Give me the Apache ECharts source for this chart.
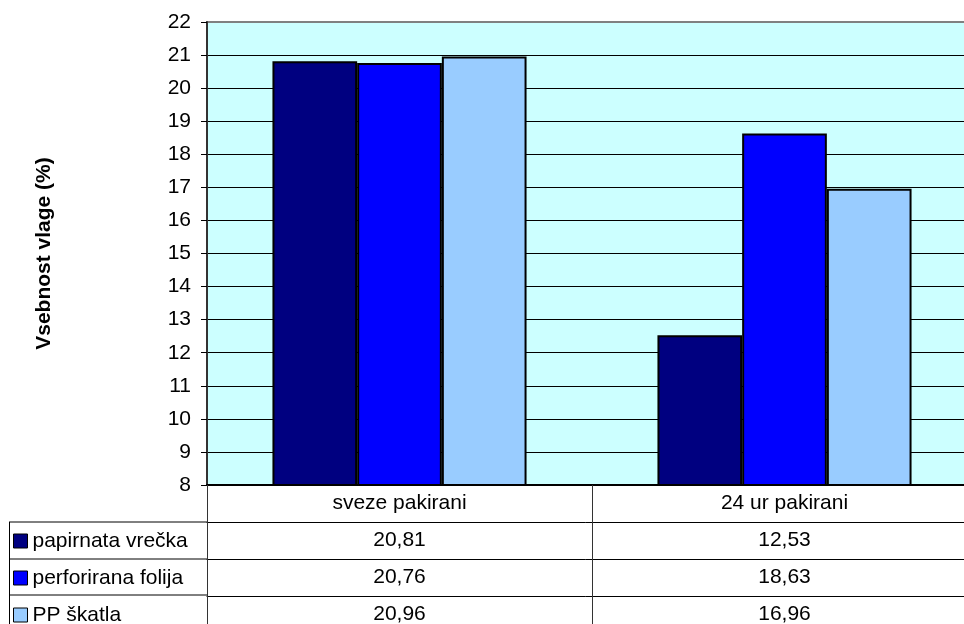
<!DOCTYPE html>
<html>
<head>
<meta charset="utf-8">
<script src="https://cdn.jsdelivr.net/npm/echarts@6/dist/echarts.min.js"></script>
<style>
  html, body { margin: 0; padding: 0; background: #fff; }
  #main { width: 964px; height: 624px; }
</style>
</head>
<body>
<div id="main"></div>
<script>
var categories = ['sveze pakirani', '24 ur pakirani'];
var seriesNames = ['papirnata vrečka', 'perforirana folija', 'PP škatla'];
var papirnataVrecka = [20.81, 12.53];
var perforiranaFolija = [20.76, 18.63];
var ppSkatla = [20.96, 16.96];
var seriesColors = ['#000080', '#0000FF', '#99CCFF'];

var allValues = [papirnataVrecka, perforiranaFolija, ppSkatla];
var font = 'Liberation Sans, Arial, sans-serif';
var fs = 21;

function fmt(v) {
    return v.toFixed(2).replace('.', ',');
}

var myChart = echarts.init(document.getElementById('main'));

// gornja črta mreže je siva, ostale črne
var splitColors = [];
for (var i = 8; i <= 22; i++) {
    splitColors.push(i === 22 ? '#808080' : '#000');
}

// osi s podatki za vrstice tabele
var xAxes = [{
    type: 'category',
    gridIndex: 0,
    data: categories,
    position: 'bottom',
    axisLine: { lineStyle: { color: '#000', width: 2 } },
    axisTick: { show: true, interval: 0, length: 150, lineStyle: { color: '#333', width: 1 } },
    axisLabel: { margin: 8, color: '#000', fontSize: fs, fontFamily: font, interval: 0 },
    splitLine: { show: false }
}];
allValues.forEach(function (vals, idx) {
    xAxes.push({
        type: 'category',
        gridIndex: 0,
        data: vals.map(fmt),
        position: 'bottom',
        offset: 37 * (idx + 1),
        axisLine: { show: true, lineStyle: { color: '#000', width: 1 } },
        axisTick: { show: false },
        axisLabel: { margin: 8, color: '#000', fontSize: fs, fontFamily: font, interval: 0 },
        splitLine: { show: false }
    });
});

var series = seriesNames.map(function (name, idx) {
    return {
        name: name,
        type: 'bar',
        xAxisIndex: 0,
        barWidth: '22%',
        barGap: '0%',
        data: allValues[idx],
        itemStyle: {
            color: seriesColors[idx],
            borderColor: '#000',
            borderWidth: 2
        }
    };
});

var option = {
    animation: false,
    grid: {
        show: true,
        left: 207,
        top: 22,
        width: 770,
        height: 463,
        outerBoundsMode: 'none',
        backgroundColor: '#CCFFFF',
        borderColor: '#808080',
        borderWidth: 2
    },
    legend: {
        orient: 'vertical',
        left: 13,
        top: 530,
        height: 140,
        padding: 0,
        itemWidth: 14,
        itemHeight: 14,
        itemGap: 15,
        icon: 'rect',
        selectedMode: false,
        itemStyle: { borderColor: '#000', borderWidth: 1 },
        textStyle: { fontSize: fs, lineHeight: 22, color: '#000', fontFamily: font },
        data: seriesNames
    },
    xAxis: xAxes,
    yAxis: {
        type: 'value',
        min: 8,
        max: 22,
        interval: 1,
        name: 'Vsebnost vlage (%)',
        nameLocation: 'middle',
        nameGap: 152,
        nameTextStyle: { fontWeight: 'bold', fontSize: fs, color: '#000', fontFamily: font },
        axisLine: { show: true, lineStyle: { color: '#333', width: 2 } },
        axisTick: { show: true, length: 6, lineStyle: { color: '#000' } },
        axisLabel: { margin: 16, color: '#000', fontSize: fs, fontFamily: font },
        splitLine: { show: true, lineStyle: { color: splitColors, width: 1 } }
    },
    graphic: [
        // leva stran tabele (stolpec z legendo)
        { type: 'line', shape: { x1: 9, y1: 522, x2: 207, y2: 522 }, style: { stroke: '#000', lineWidth: 1 } },
        { type: 'line', shape: { x1: 9, y1: 559, x2: 207, y2: 559 }, style: { stroke: '#000', lineWidth: 1 } },
        { type: 'line', shape: { x1: 9, y1: 595, x2: 207, y2: 595 }, style: { stroke: '#000', lineWidth: 1 } },
        { type: 'line', shape: { x1: 9.5, y1: 522, x2: 9.5, y2: 624 }, style: { stroke: '#000', lineWidth: 1 } }
    ],
    series: series
};

myChart.setOption(option);
</script>
</body>
</html>
